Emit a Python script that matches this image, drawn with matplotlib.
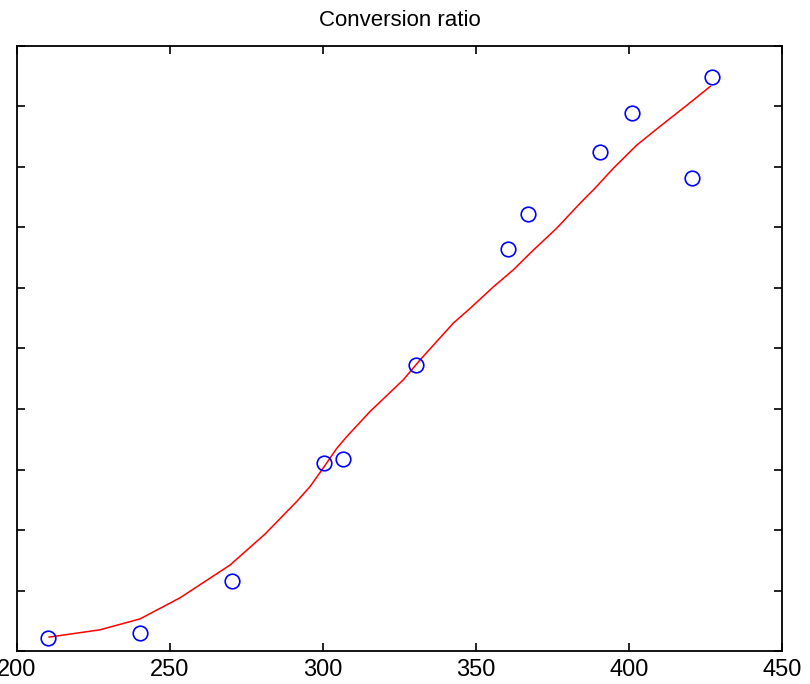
import matplotlib
matplotlib.use("Agg")
import matplotlib.pyplot as plt

# Observed data points
x_data = [210.2, 240.2, 270.3, 300.4, 306.6, 330.4, 360.6, 366.9, 390.5, 401.1, 420.7, 427.2]
y_data = [0.021, 0.030, 0.115, 0.311, 0.317, 0.473, 0.664, 0.723, 0.825, 0.890, 0.781, 0.948]

# Fitted curve
x_fit = [210.5, 227.1, 240.2, 253.3, 269.6, 278.3, 281.0, 291.4, 295.8, 300.7, 304.5,
         307.7, 315.4, 326.2, 331.7, 342.6, 348.0, 355.7, 362.2, 368.2, 376.4, 384.0,
         388.9, 394.9, 402.5, 410.1, 418.9, 426.5]
y_fit = [0.023, 0.035, 0.053, 0.088, 0.142, 0.181, 0.193, 0.247, 0.272, 0.307, 0.335,
         0.354, 0.396, 0.448, 0.481, 0.542, 0.566, 0.602, 0.630, 0.660, 0.699, 0.740,
         0.765, 0.798, 0.836, 0.867, 0.902, 0.933]

x_ticks = [200, 250, 300, 350, 400, 450]
y_ticks = [0.0, 0.1, 0.2, 0.3, 0.4, 0.5, 0.6, 0.7, 0.8, 0.9, 1.0]

W, H = 810, 684
fig = plt.figure(figsize=(W / 100, H / 100), dpi=100)
left, right, top, bottom = 17, 782, 46, 651
ax = fig.add_axes([left / W, (H - bottom) / H, (right - left) / W, (bottom - top) / H])

ax.plot(x_fit, y_fit, color="#ff0000", lw=1.1, zorder=2)
ax.plot(x_data, y_data, linestyle="none", marker="o", markersize=10.5,
        markerfacecolor="none", markeredgecolor="#0000ff", markeredgewidth=1.2, zorder=3)

ax.set_xlim(200, 450)
ax.set_ylim(0, 1)
ax.set_xticks(x_ticks)
ax.set_yticks(y_ticks)
ax.tick_params(direction="in", length=6, width=1.2, top=True, right=True,
               labelleft=False, pad=6, labelsize=17)
for lab in ax.get_xticklabels():
    lab.set_family(["Liberation Sans", "DejaVu Sans"])
for s in ax.spines.values():
    s.set_linewidth(1.3)

fig.text((left + right) / 2 / W, 1 - 20 / H, "Conversion ratio", ha="center", va="center",
         fontsize=16, family=["Liberation Sans", "DejaVu Sans"])

fig.savefig("out.png", dpi=100)
